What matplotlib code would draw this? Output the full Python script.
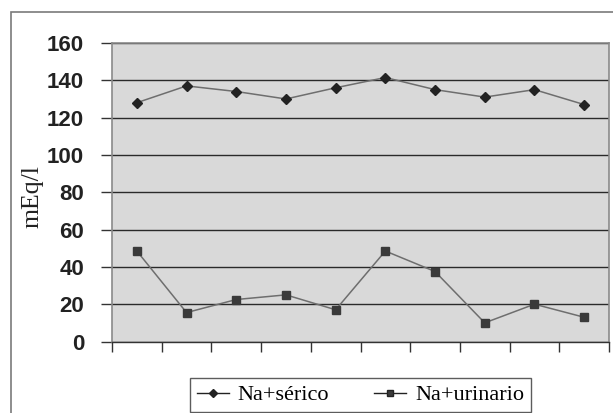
import matplotlib
matplotlib.use("Agg")
import matplotlib.pyplot as plt
from matplotlib.lines import Line2D
from matplotlib.patches import Rectangle

categories = list(range(1, 11))
serico = [128, 137, 134, 130, 136, 141.5, 135, 131, 135, 127]
urinario = [48.5, 15.5, 22.5, 25, 17, 48.5, 37.5, 10, 20, 13]
yticks = [0, 20, 40, 60, 80, 100, 120, 140, 160]
labels = ["Na+sérico", "Na+urinario"]

W, H = 613, 413
fig = plt.figure(figsize=(W / 100, H / 100), dpi=100)
fig.patch.set_facecolor("white")

# outer chart border
fig.patches.append(Rectangle((10.5 / W, -0.05), 1.1, 1 - 12.5 / H + 0.05,
                             transform=fig.transFigure, fill=False,
                             edgecolor="#7a7a7a", linewidth=1.2))

left, right, top, bottom = 112, 609, 43, 341.5
ax = fig.add_axes([left / W, 1 - bottom / H, (right - left) / W, (bottom - top) / H])
ax.set_facecolor("#d9d9d9")

ax.plot(categories, serico, color="#6e6e6e", linewidth=1.1, marker="D",
        markersize=5.5, markerfacecolor="#222222", markeredgecolor="#222222", zorder=3)
ax.plot(categories, urinario, color="#6e6e6e", linewidth=1.1, marker="s",
        markersize=6, markerfacecolor="#3a3a3a", markeredgecolor="#3a3a3a", zorder=3)

ax.set_xlim(0.5, 10.5)
ax.set_ylim(0, 160)
ax.set_yticks(yticks)
ax.set_yticklabels([str(v) for v in yticks], fontfamily="Liberation Sans",
                   fontweight="bold", fontsize=16, color="#222222")
ax.set_xticks([i + 0.5 for i in range(0, 11)])
ax.set_xticklabels([])
ax.tick_params(axis="y", direction="out", length=8, width=1, color="#333333", pad=12)
ax.tick_params(axis="x", direction="out", length=7, width=1, color="#333333")
ax.yaxis.grid(True, color="#2a2a2a", linewidth=1)
ax.set_axisbelow(True)

for s in ["top", "right", "left"]:
    ax.spines[s].set_color("#8a8a8a")
    ax.spines[s].set_linewidth(1.2)
ax.spines["bottom"].set_color("#333333")
ax.spines["bottom"].set_linewidth(1)

fig.text(33 / W, 1 - 197 / H, "mEq/l", rotation=90, ha="center", va="center",
         fontfamily="Liberation Serif", fontsize=18.5, color="#222222")

handles = [
    Line2D([], [], color="#222222", linewidth=1, marker="D", markersize=4,
           markerfacecolor="#222222"),
    Line2D([], [], color="#222222", linewidth=1, marker="s", markersize=5,
           markerfacecolor="#3a3a3a"),
]
lx0, lx1, ly0, ly1 = 190, 531, 378, 412
leg = fig.legend(handles, labels, loc="lower left", ncol=2, mode="expand",
                 bbox_to_anchor=(lx0 / W, 1 - ly1 / H, (lx1 - lx0) / W, (ly1 - ly0) / H),
                 prop={"family": "Liberation Serif", "size": 16},
                 frameon=True, fancybox=False, shadow=False,
                 handlelength=1.45, handletextpad=0.4, columnspacing=1.2,
                 borderpad=0.3, borderaxespad=0)
leg.get_frame().set_edgecolor("#333333")
leg.get_frame().set_linewidth(1)

fig.savefig("out.png", dpi=100)
